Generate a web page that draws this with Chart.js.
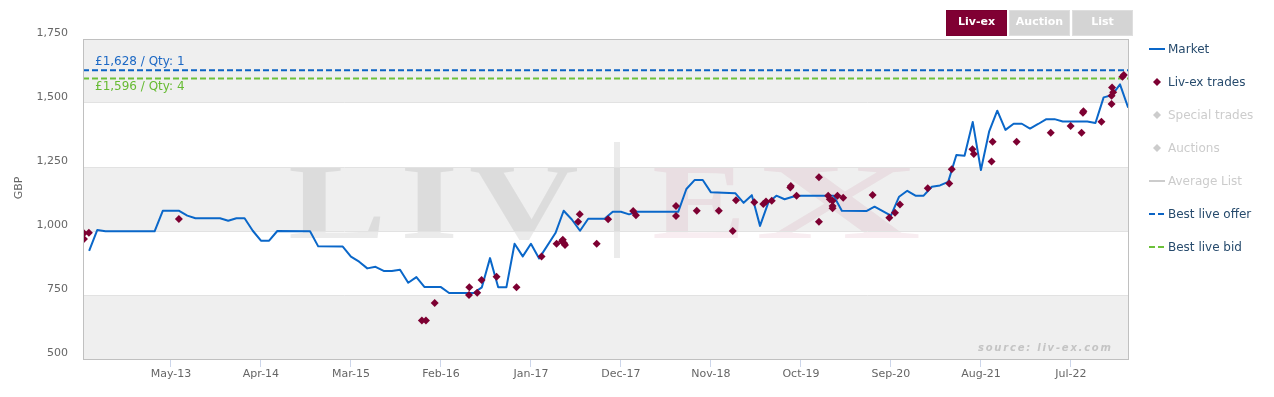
<!DOCTYPE html>
<html>
<head>
<meta charset="utf-8">
<script src="https://cdn.jsdelivr.net/npm/chart.js@4.4.1/dist/chart.umd.min.js"></script>
<style>
  html, body { margin: 0; padding: 0; background: #fff; }
  #wrap { position: relative; width: 1274px; height: 397px; font-family: 'DejaVu Sans', sans-serif; }
  #chart { position: absolute; left: 0; top: 0; }
  .tabs { position: absolute; top: 10px; left: 946px; display: flex; gap: 2px; }
  .tab { width: 61px; height: 26px; line-height: 22px; text-align: center; font-weight: bold; font-size: 11px;
         color: #fff; background: #d4d4d4; box-sizing: border-box; border: 1px solid #dedede; }
  .tab.active { background: #800033; border-color: #7a0030; }
  #legend { position: absolute; left: 1149px; top: 32px; }
  .item { height: 33px; display: flex; align-items: center; font-size: 12px; color: #274b6d; white-space: nowrap; }
  .item.off { color: #cccccc; }
  .item canvas { margin-right: 3px; }
</style>
</head>
<body>
<div id="wrap">
  <canvas id="chart" width="1274" height="397"></canvas>
  <div class="tabs">
    <div class="tab active">Liv-ex</div>
    <div class="tab">Auction</div>
    <div class="tab">List</div>
  </div>
  <div id="legend"></div>
</div>
<script>
// month-end market price, GBP
const marketMonths = [
  '2012-07','2012-08','2012-09','2013-03','2013-04','2013-06','2013-07','2013-08','2013-11','2013-12',
  '2014-01','2014-02','2014-03','2014-04','2014-05','2014-06','2014-10','2014-11','2015-02','2015-03',
  '2015-04','2015-05','2015-06','2015-07','2015-08','2015-09','2015-10','2015-11','2015-12','2016-02',
  '2016-03','2016-06','2016-07','2016-08','2016-09','2016-10','2016-11','2016-12','2017-01','2017-02',
  '2017-04','2017-05','2017-06','2017-07','2017-08','2017-10','2017-11','2017-12','2018-01','2018-02',
  '2018-07','2018-08','2018-09','2018-10','2018-11','2019-02','2019-03','2019-04','2019-05','2019-06',
  '2019-07','2019-08','2019-09','2019-10','2020-02','2020-03','2020-06','2020-07','2020-08','2020-09',
  '2020-10','2020-11','2020-12','2021-01','2021-02','2021-03','2021-04','2021-05','2021-06','2021-07',
  '2021-08','2021-09','2021-10','2021-11','2021-12','2022-01','2022-02','2022-03','2022-04','2022-05',
  '2022-06','2022-09','2022-10','2022-11','2022-12','2023-01','2023-02'
];
const marketValues = [
  922, 1004, 999, 999, 1079, 1079, 1060, 1050, 1050, 1040,
  1050, 1050, 1001, 962, 962, 1000, 999, 940, 939, 900,
  880, 854, 860, 844, 844, 849, 798, 820, 781, 781,
  758, 758, 780, 894, 780, 780, 950, 901, 950, 893,
  992, 1079, 1045, 1001, 1048, 1048, 1075, 1075, 1065, 1075,
  1075, 1164, 1199, 1199, 1151, 1147, 1110, 1140, 1020, 1110,
  1138, 1124, 1134, 1138, 1138, 1079, 1078, 1095, 1078, 1060,
  1134, 1157, 1138, 1138, 1173, 1178, 1192, 1297, 1294, 1426,
  1238, 1388, 1470, 1395, 1419, 1419, 1400, 1418, 1437, 1437,
  1428, 1428, 1422, 1522, 1530, 1573, 1482
];

// individual Liv-ex trades
const tradeDates = [
  '2012-06-12','2012-06-30','2012-06-12','2013-05-30','2015-11-21','2015-12-06','2016-01-08','2016-05-15',
  '2016-05-14','2016-06-14','2016-06-30','2016-08-25','2016-11-08','2017-02-10','2017-04-05','2017-04-25',
  '2017-04-28','2017-05-03','2017-05-06','2017-06-24','2017-06-30','2017-09-02','2017-10-14','2018-01-16',
  '2018-01-26','2018-06-23','2018-06-23','2018-09-09','2018-11-30','2019-01-21','2019-02-03','2019-04-10',
  '2019-05-13','2019-05-23','2019-06-14','2019-08-22','2019-08-24','2019-09-15','2019-12-07','2019-12-07',
  '2020-01-11','2020-01-17','2020-01-27','2020-01-27','2020-01-27','2020-02-15','2020-03-06','2020-06-24',
  '2020-08-25','2020-09-16','2020-10-04','2021-01-16','2021-04-05','2021-04-14','2021-06-30','2021-07-05',
  '2021-09-10','2021-09-14','2021-12-12','2022-04-17','2022-06-30','2022-08-10','2022-08-15','2022-08-17',
  '2022-10-23','2022-11-30','2022-11-30','2022-12-02','2022-12-06','2023-01-10','2023-01-15'
];
const tradeValues = [
  991, 993, 969, 1047, 650, 650, 719, 780,
  750, 759, 809, 821, 780, 900, 950, 960,
  966, 952, 945, 1036, 1065, 950, 1046, 1078,
  1062, 1098, 1059, 1079, 1079, 1000, 1120, 1112,
  1105, 1115, 1118, 1170, 1176, 1138, 1210, 1036,
  1138, 1124, 1118, 1098, 1089, 1138, 1130, 1141,
  1052, 1071, 1104, 1167, 1186, 1241, 1319, 1301,
  1271, 1349, 1349, 1384, 1410, 1384, 1462, 1468,
  1427, 1496, 1528, 1561, 1542, 1603, 1609
];

const bestOffer = 1628, bestOfferQty = 1;
const bestBid = 1596, bestBidQty = 4;

const xTickLabels = ['May-13','Apr-14','Mar-15','Feb-16','Jan-17','Dec-17','Nov-18','Oct-19','Sep-20','Aug-21','Jul-22'];
const yTicks = [500, 750, 1000, 1250, 1500, 1750];
const bandRanges = [[500, 750], [1000, 1250], [1500, 1750]];

// x axis runs in months since Jan 2012
const monthNames = ['Jan','Feb','Mar','Apr','May','Jun','Jul','Aug','Sep','Oct','Nov','Dec'];
const toMonthIndex = (str) => {
  const [y, m, d] = str.split('-').map(Number);
  return (y - 2012) * 12 + (m - 1) + (d ? (d - 1) / 30 : 0);
};
const labelToIndex = (lbl) => {
  const [mon, yy] = lbl.split('-');
  return (2000 + Number(yy) - 2012) * 12 + monthNames.indexOf(mon);
};
const xMin = 5.25, xMax = 133.1;

Chart.defaults.font.family = "'DejaVu Sans', sans-serif";
Chart.defaults.font.size = 11;

const plotDecor = {
  id: 'plotDecor',
  beforeDraw(chart) {
    const { ctx, chartArea: a, scales: { y } } = chart;
    ctx.save();
    ctx.fillStyle = '#efefef';
    bandRanges.forEach(([from, to]) => {
      const top = y.getPixelForValue(to), bottom = y.getPixelForValue(from);
      ctx.fillRect(a.left, top, a.width, bottom - top);
    });
    // watermark
    const cx = (a.left + a.right) / 2, cy = (a.top + a.bottom) / 2;
    ctx.translate(cx, cy);
    ctx.font = "bold 107px 'Liberation Serif'";
    ctx.textBaseline = 'alphabetic';
    const glyph = (ch, dx, sx, color) => {
      ctx.save();
      ctx.translate(dx, 39);
      ctx.scale(sx, 1);
      ctx.fillStyle = color;
      ctx.fillText(ch, 0, 0);
      ctx.restore();
    };
    const grey = 'rgba(0,0,0,0.08)', pink = 'rgba(150,0,50,0.07)';
    glyph('L', -318, 1.38, grey);
    glyph('I', -206, 1.4, grey);
    glyph('V', -137, 1.42, grey);
    ctx.fillStyle = 'rgba(0,0,0,0.08)';
    ctx.fillRect(8, -57, 6, 116);
    glyph('E', 46, 1.32, pink);
    glyph('X', 149, 2.15, pink);
    ctx.restore();
  },
  afterDatasetsDraw(chart) {
    const { ctx, chartArea: a, scales: { y } } = chart;
    ctx.save();
    ctx.font = "12px 'DejaVu Sans'";
    ctx.textBaseline = 'middle';
    ctx.fillStyle = '#1c68c4';
    ctx.fillText(`£${bestOffer.toLocaleString('en-US')} / Qty: ${bestOfferQty}`, a.left + 12, y.getPixelForValue(bestOffer) - 8.5);
    ctx.fillStyle = '#66bb33';
    ctx.fillText(`£${bestBid.toLocaleString('en-US')} / Qty: ${bestBidQty}`, a.left + 12, y.getPixelForValue(bestBid) + 8.5);

    // source stamp
    ctx.font = "italic bold 10px 'DejaVu Sans'";
    const src = 'source: liv-ex.com';
    const w = ctx.measureText(src).width;
    ctx.letterSpacing = Math.max(0, (133 - w) / (src.length - 1)).toFixed(2) + 'px';
    ctx.fillStyle = '#c4c4c4';
    ctx.textAlign = 'left';
    ctx.fillText(src, a.right - 151, a.bottom - 11);
    ctx.letterSpacing = '0px';

    // axis title
    ctx.font = "11px 'DejaVu Sans'";
    ctx.fillStyle = '#666';
    ctx.textAlign = 'center';
    ctx.translate(19, (a.top + a.bottom) / 2 - 11);
    ctx.rotate(-Math.PI / 2);
    ctx.fillText('GBP', 0, 0);
    ctx.restore();

    ctx.save();
    ctx.strokeStyle = '#c0c0c0';
    ctx.lineWidth = 1;
    ctx.strokeRect(Math.round(a.left) + 0.5, Math.round(a.top) + 0.5, Math.round(a.width) - 1, Math.round(a.height));
    ctx.restore();
  }
};

const chart = new Chart(document.getElementById('chart'), {
  type: 'line',
  data: {
    datasets: [
      {
        label: 'Market',
        data: marketMonths.map((m, i) => ({ x: toMonthIndex(m), y: marketValues[i] })),
        borderColor: '#0a67c9',
        borderWidth: 2,
        pointRadius: 0,
        borderJoinStyle: 'round',
        tension: 0,
        order: 1,
      },
      {
        label: 'Liv-ex trades',
        data: tradeDates.map((d, i) => ({ x: toMonthIndex(d), y: tradeValues[i] })),
        showLine: false,
        pointStyle: 'rectRot',
        pointRadius: 4,
        pointBorderWidth: 0,
        pointBackgroundColor: '#7d0032',
        borderColor: '#7d0032',
        order: 0,
      },
      { label: 'Special trades', data: [], showLine: false, hidden: true, pointBackgroundColor: '#cccccc' },
      { label: 'Auctions', data: [], showLine: false, hidden: true, pointBackgroundColor: '#cccccc' },
      { label: 'Average List', data: [], hidden: true, borderColor: '#cccccc' },
      {
        label: 'Best live offer',
        data: [{ x: xMin, y: bestOffer }, { x: xMax, y: bestOffer }],
        borderColor: '#0b63c4',
        borderWidth: 2,
        borderDash: [6, 3],
        pointRadius: 0,
        order: 2,
      },
      {
        label: 'Best live bid',
        data: [{ x: xMin, y: bestBid }, { x: xMax, y: bestBid }],
        borderColor: '#6cc13a',
        borderWidth: 2,
        borderDash: [6, 3],
        pointRadius: 0,
        order: 2,
      },
    ],
  },
  options: {
    responsive: false,
    animation: false,
    devicePixelRatio: 1,
    layout: { padding: { top: 39, right: 145, bottom: 0, left: 0 } },
    plugins: { legend: { display: false }, tooltip: { enabled: false } },
    scales: {
      x: {
        type: 'linear',
        min: xMin,
        max: xMax,
        afterBuildTicks: (s) => { s.ticks = xTickLabels.map((l) => ({ value: labelToIndex(l) })); },
        afterFit: (s) => { s.height = 38; },
        grid: { drawOnChartArea: false, drawTicks: true, tickLength: 8, color: '#ccd6eb' },
        border: { display: false },
        ticks: { autoSkip: false, maxRotation: 0, padding: 1, color: '#666', callback: (v, i) => xTickLabels[i] },
      },
      y: {
        min: 500,
        max: 1750,
        afterBuildTicks: (s) => { s.ticks = yTicks.map((v) => ({ value: v })); },
        afterFit: (s) => { s.width = 83; },
        grid: { color: '#e2e2e2', drawTicks: false },
        border: { display: false },
        ticks: { padding: 15, labelOffset: -6, color: '#666', callback: (v) => v.toLocaleString('en-US') },
      },
    },
  },
  plugins: [plotDecor],
});

// legend built from the chart's datasets
const legendEl = document.getElementById('legend');
chart.data.datasets.forEach((ds, i) => {
  const on = chart.isDatasetVisible(i);
  const item = document.createElement('div');
  item.className = 'item' + (on ? '' : ' off');
  const sym = document.createElement('canvas');
  sym.width = 16; sym.height = 10;
  const g = sym.getContext('2d');
  if (ds.showLine === false) {
    g.fillStyle = on ? ds.pointBackgroundColor : '#cccccc';
    g.beginPath();
    g.moveTo(8, 1); g.lineTo(12, 5); g.lineTo(8, 9); g.lineTo(4, 5);
    g.closePath();
    g.fill();
  } else {
    g.strokeStyle = on ? ds.borderColor : '#cccccc';
    g.lineWidth = 2;
    g.setLineDash(ds.borderDash || []);
    g.beginPath();
    g.moveTo(0, 5); g.lineTo(16, 5);
    g.stroke();
  }
  const txt = document.createElement('span');
  txt.textContent = ds.label;
  item.appendChild(sym);
  item.appendChild(txt);
  legendEl.appendChild(item);
});
</script>
</body>
</html>
